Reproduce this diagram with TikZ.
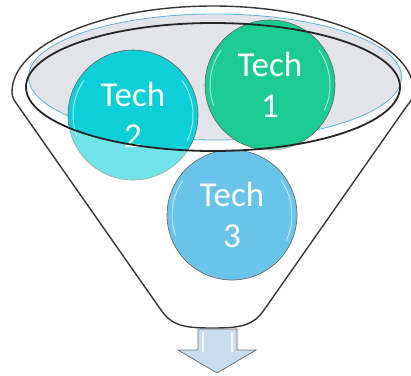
\documentclass[tikz,border=0pt]{standalone}
\usepackage{fontspec}
\setmainfont{Carlito}
\definecolor{techgreen}{HTML}{1BCB91}
\definecolor{techcyan}{HTML}{0DCFD8}
\definecolor{techblue}{HTML}{6AC3E8}
\definecolor{rimgray}{HTML}{E3E4E9}
\definecolor{rimblue}{HTML}{5AB4E0}
\definecolor{arrowfill}{HTML}{C9DDF1}
\tikzset{
  funnelline/.style={draw=black!78, line width=1.4pt, line join=round},
  rimline/.style={draw=black!85, line width=1.8pt},
  ball/.style={circle, minimum size=130pt, inner sep=0pt, draw=black!60, line width=0.6pt,
    text=white, align=center, font=\fontsize{35}{41}\selectfont},
  gloss/.style={draw=white, line width=1pt, opacity=.6, line cap=round},
}
\begin{document}
\begin{tikzpicture}[x=1pt, y=-1pt]
\useasboundingbox (0,0) rectangle (411,375);
% funnel body
\fill[white] (12,92) arc[start angle=180, end angle=360, x radius=201, y radius=86]
  .. controls (414,98) and (411,100) .. (404,110) -- (264,310)
  .. controls (253,326) and (240,328) .. (212,328)
  .. controls (185,328) and (172,326) .. (161,310) -- (21,110)
  .. controls (14,100) and (12,98) .. cycle;
% inner rim surface
\filldraw[fill=rimgray, draw=rimblue, line width=0.8pt] (215,77) ellipse [x radius=186.5, y radius=63];
% balls inside the funnel
\node[ball, fill=techcyan] (t2) at (133,115) {Tech\\2};
\node[ball, fill=techgreen] (t1) at (270,85) {Tech\\1};
\draw[gloss] (t2.center) ++(160:60) arc[start angle=160, end angle=215, radius=60];
\draw[gloss] (t2.center) ++(-35:60) arc[start angle=-35, end angle=25, radius=60];
\draw[gloss] (t1.center) ++(160:60) arc[start angle=160, end angle=215, radius=60];
\draw[gloss] (t1.center) ++(-35:60) arc[start angle=-35, end angle=25, radius=60];
% front wall of the funnel, seen through: everything below the rim's front edge
\begin{scope}
  \clip (12,92) arc[start angle=180, end angle=360, x radius=201, y radius=86]
    .. controls (414,98) and (411,100) .. (404,110) -- (264,310)
    .. controls (253,326) and (240,328) .. (212,328)
    .. controls (185,328) and (172,326) .. (161,310) -- (21,110)
    .. controls (14,100) and (12,98) .. cycle;
  \fill[white, opacity=.42] (26,87) arc[start angle=180, end angle=0, x radius=187, y radius=64]
    -- (420,87) -- (420,340) -- (0,340) -- (0,87) -- cycle;
\end{scope}
% third ball below the rim
\node[ball, fill=techblue] (t3) at (232,215) {Tech\\3};
\draw[gloss] (t3.center) ++(160:60) arc[start angle=160, end angle=215, radius=60];
\draw[gloss] (t3.center) ++(-35:60) arc[start angle=-35, end angle=25, radius=60];
% front rim edge
\draw[rimline] (213,87) ellipse [x radius=187, y radius=64];
% funnel outline
\draw[funnelline] (12,92) arc[start angle=180, end angle=360, x radius=201, y radius=86]
  .. controls (414,98) and (411,100) .. (404,110) -- (264,310)
  .. controls (253,326) and (240,328) .. (212,328)
  .. controls (185,328) and (172,326) .. (161,310) -- (21,110)
  .. controls (14,100) and (12,98) .. cycle;
% outlet arrow
\filldraw[fill=arrowfill, draw=black!55, line width=0.8pt, line join=miter]
  (198,329) -- (237,329) -- (237,350) -- (256,350) -- (217,373) -- (178,350) -- (198,350) -- cycle;
\draw[white, line width=1.4pt, opacity=.9] (203,332) -- (203,352);
\draw[white, line width=1.4pt, opacity=.9] (232,332) -- (232,352);
\end{tikzpicture}
\end{document}
